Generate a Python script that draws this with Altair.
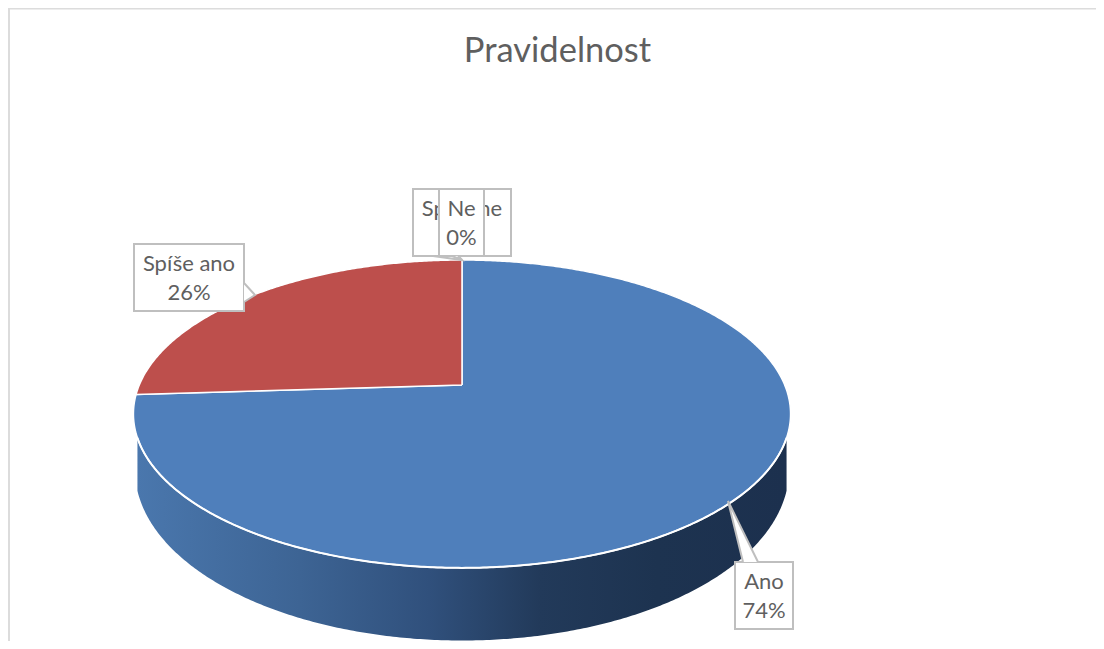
import math
import altair as alt
import pandas as pd

# --- chart values ---
TITLE = "Pravidelnost"
CATEGORIES = ["Ano", "Spíše ano", "Spíše ne", "Ne"]
SHARES = [74, 26, 0, 0]
SLICE_COLORS = {"Ano": "#4f7fbb", "Spíše ano": "#bd4f4c"}
FONT = "Lato"
TEXT_COLOR = "#5f5f5f"
BOX_COLOR = "#bfbfbf"

# label boxes: category, left, right, top, bottom (reference page pixels)
BOXES = [
    ("Spíše ano", 134, 244, 244, 311),
    ("Spíše ne", 413, 511, 189, 256),
    ("Ne", 439, 484, 189, 256),
    ("Ano", 735, 793, 562, 629),
]
# call-out tails
TAILS = {
    "Spíše ano": [(244, 283), (255, 295), (244, 302)],
    "Spíše ne": [(433, 256), (462, 260), (458, 256)],
    "Ne": [(452, 256), (462, 260), (458, 256)],
    "Ano": [(743, 562), (728, 501), (758, 562)],
}

# --- tilted-disc geometry ---
CX, CY = 462, 385      # hub of the pie
A, B, K = 322.7, 148.5, 0.188   # horizontal/vertical reach and perspective
WALL_CY, WALL_RX, WALL_RY = 470, 327, 170.5
RIM_TOP = 437


def disc(deg):
    t = math.radians(deg)
    u, v = math.sin(t), math.cos(t)
    w = 1 + K * v
    return CX + A * u / w, CY - B * v / w


total = sum(SHARES)
edges = [0]
for s in SHARES:
    edges.append(edges[-1] + s / total * 360)

poly_rows = []
for name, a0, a1 in zip(CATEGORIES, edges[:-1], edges[1:]):
    if a1 <= a0:
        continue
    pts = [(CX, CY)]
    n = int((a1 - a0) * 2)
    pts += [disc(a0 + (a1 - a0) * i / n) for i in range(n + 1)]
    pts.append((CX, CY))
    for i, (x, y) in enumerate(pts):
        poly_rows.append({"name": name, "i": i, "x": x, "y": y})
poly = pd.DataFrame(poly_rows)

rim_rows = [disc(d / 2) for d in range(0, 721)]
rim_rows = [p for p in rim_rows if p[1] >= RIM_TOP]
rim_rows.sort(key=lambda p: p[0])
wall = pd.DataFrame(
    [
        {
            "x": x,
            "y": y,
            "y2": max(
                y,
                WALL_CY + WALL_RY * math.sqrt(max(0, 1 - ((x - CX) / WALL_RX) ** 2)),
            ),
        }
        for x, y in rim_rows
    ]
)

boxes = pd.DataFrame(BOXES, columns=["name", "x", "x2", "y", "y2"])
tails = pd.DataFrame(
    [
        {"name": k, "i": i, "x": x, "y": y}
        for k, v in TAILS.items()
        for i, (x, y) in enumerate(v)
    ]
)
share_of = dict(zip(CATEGORIES, SHARES))
texts = []
for name, x0, x1, y0, y1 in BOXES:
    cx = (x0 + x1) / 2
    texts.append({"name": name, "t": name, "x": cx, "y": y0 + 20})
    texts.append({"name": name, "t": f"{share_of[name]}%", "x": cx, "y": y0 + 49})
texts = pd.DataFrame(texts)
frame = pd.DataFrame(
    [
        {"x": 9, "x2": 1096, "y": 8.5, "y2": 8.5, "c": "#dcdcdc", "w": 2},
        {"x": 9, "x2": 9, "y": 8, "y2": 641, "c": "#dcdcdc", "w": 2},
    ]
)

DOMX = alt.Scale(domain=[8, 1096])
X = alt.X("x:Q", scale=DOMX, axis=None)
Y = alt.Y("y:Q", scale=alt.Scale(domain=[641, 8]), axis=None)

layers = []
layers.append(
    alt.Chart(frame).mark_rule().encode(
        x=X, x2="x2:Q", y=Y, y2="y2:Q",
        color=alt.Color("c:N", scale=None),
        strokeWidth=alt.StrokeWidth("w:Q", scale=None),
    )
)
layers.append(
    alt.Chart(wall).mark_area(
        color=alt.Gradient(
            gradient="linear", x1=0, x2=1, y1=0, y2=0,
            stops=[
                alt.GradientStop(offset=0, color="#4a77ad"),
                alt.GradientStop(offset=0.25, color="#3d6494"),
                alt.GradientStop(offset=0.45, color="#30507c"),
                alt.GradientStop(offset=0.62, color="#223a5a"),
                alt.GradientStop(offset=0.8, color="#1d3350"),
                alt.GradientStop(offset=1, color="#1c304e"),
            ],
        )
    ).encode(x=X, y=Y, y2="y2:Q")
)
for name in ["Ano", "Spíše ano"]:
    layers.append(
        alt.Chart(poly[poly.name == name]).mark_line(
            fill=SLICE_COLORS[name], stroke="white", strokeWidth=1.5
        ).encode(x=X, y=Y, order="i:Q")
    )
layers.append(
    alt.Chart(wall).mark_line(stroke="white", strokeWidth=2).encode(x=X, y=Y)
)
for name, *_ in BOXES:
    layers.append(
        alt.Chart(boxes[boxes.name == name]).mark_rect(
            fill="white", stroke=BOX_COLOR, strokeWidth=2
        ).encode(x=X, x2="x2:Q", y=Y, y2="y2:Q")
    )
    layers.append(
        alt.Chart(tails[tails.name == name]).mark_line(
            fill="white", stroke=BOX_COLOR, strokeWidth=2
        ).encode(x=X, y=Y, order="i:Q")
    )
    layers.append(
        alt.Chart(texts[texts.name == name]).mark_text(
            font=FONT, fontSize=22, color=TEXT_COLOR, align="center", baseline="middle"
        ).encode(x=X, y=Y, text="t:N")
    )

chart = (
    alt.layer(*layers)
    .properties(
        width=1088,
        height=633,
        padding=0,
        autosize=alt.AutoSizeParams(type="none"),
        title=alt.TitleParams(
            TITLE, font=FONT, fontSize=34.5, fontWeight="normal", color=TEXT_COLOR,
            anchor="middle", frame="group", offset=-62, dx=5.5,
        ),
    )
    .configure_view(stroke=None)
)
chart.save("out.html", embed_options={"renderer": "svg", "actions": False})
